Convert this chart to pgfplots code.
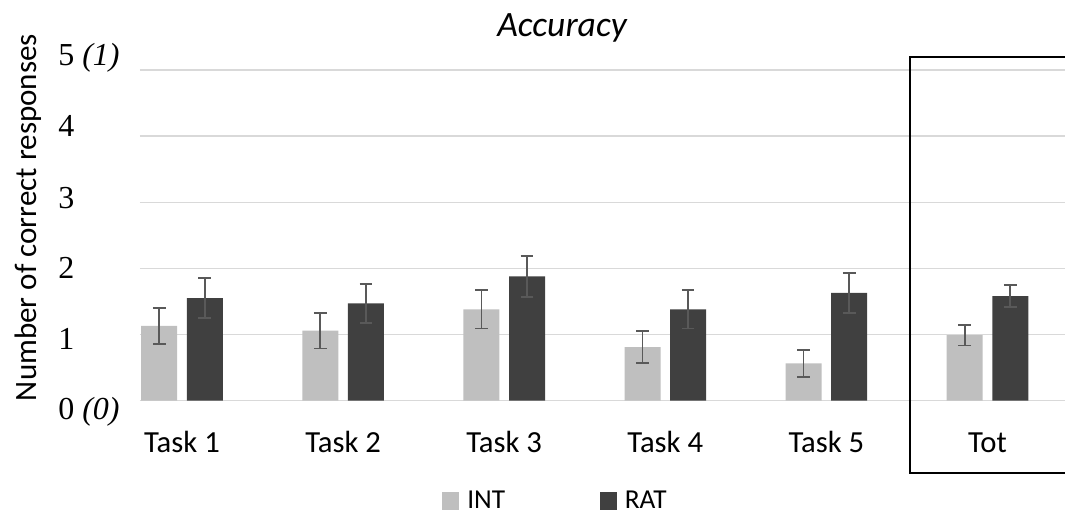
\documentclass[border=0pt]{standalone}
\usepackage{fontspec}
\setmainfont{Carlito}
\newfontfamily\tnr{Liberation Serif}
\usepackage{pgfplots}
\usepackage{pgfplotstable}
\pgfplotsset{compat=1.18}
\definecolor{intc}{HTML}{BFBFBF}
\definecolor{ratc}{HTML}{404040}
\definecolor{gridc}{HTML}{D9D9D9}
\definecolor{errc}{HTML}{595959}
\newcommand{\yl}[2]{\raisebox{#1}{\smash{\tnr\fontsize{24}{24}\selectfont #2}}}

\pgfplotstableread{
x y e
0 1.13 0.27
1 1.06 0.27
2 1.38 0.29
3 0.81 0.245
4 0.565 0.205
5 0.99 0.155
}\inttab
\pgfplotstableread{
x y e
0 1.55 0.30
1 1.47 0.29
2 1.88 0.31
3 1.38 0.29
4 1.63 0.30
5 1.58 0.165
}\rattab

\begin{document}
\begin{tikzpicture}
\useasboundingbox (0,0) rectangle (798.75pt,386.25pt);
\begin{axis}[
 at={(105pt,85.725pt)}, anchor=south west,
 width=693.75pt, height=248pt, scale only axis,
 xmin=-0.2607, xmax=5.481, ymin=0, ymax=5,
 ytick={0,...,5},
 yticklabels={\yl{-14.1pt}{0 \textit{(0)}}, \yl{-11.5pt}{1}, \yl{-7.7pt}{2}, \yl{-4.3pt}{3}, \yl{-0.5pt}{4}, \yl{3.75pt}{5 \textit{(1)}}},
 yticklabel style={anchor=base west, inner sep=0pt, xshift=-61.5pt},
 xtick={0,...,5},
 xticklabels={Task 1,Task 2,Task 3,Task 4,Task 5,Tot},
 xticklabel style={anchor=base, inner sep=0pt, yshift=-38.5pt, font=\fontsize{23}{23}\selectfont},
 major tick length=0pt,
 axis line style={draw=none},
 ymajorgrids, grid style={gridc, line width=1.1pt},
 title={Accuracy},
 title style={at={(axis description cs:0.4562,1.0786)}, anchor=base, font=\fontsize{26.7}{26.7}\selectfont\itshape},
 ylabel={Number of correct responses},
 ylabel style={at={(axis description cs:-0.1124,0.554)}, anchor=base, font=\fontsize{23.3}{23.3}\selectfont},
 legend image code/.code={\fill[#1] (0pt,-6.4pt) rectangle (12.75pt,6.4pt);},
 legend columns=2,
 legend style={draw=none, fill=none, inner sep=0pt, nodes={inner sep=0pt}, at={(axis description cs:0.3265,-0.3033)}, anchor=west, font=\fontsize{20.5}{20.5}\selectfont,
   /tikz/every odd column/.append style={column sep=6pt},
   /tikz/every even column/.append style={column sep=71pt}},
 legend cell align=left,
]
\addplot[ybar, bar width=27pt, bar shift=0pt, fill=intc, draw=none,
  error bars/.cd, y dir=both, y explicit,
  error bar style={errc, line width=1.3pt},
  error mark options={errc, line width=1.3pt, mark size=4.75pt, rotate=90}]
  table[x expr=\thisrow{x}-0.1415, y=y, y error=e] {\inttab};
\addlegendentry{INT}
\addplot[ybar, bar width=27pt, bar shift=0pt, fill=ratc, draw=none,
  error bars/.cd, y dir=both, y explicit,
  error bar style={errc, line width=1.3pt},
  error mark options={errc, line width=1.3pt, mark size=4.75pt, rotate=90}]
  table[x expr=\thisrow{x}+0.1415, y=y, y error=e] {\rattab};
\addlegendentry{RAT}
\end{axis}
\draw[line width=1.5pt] (682.3pt,31.3pt) rectangle (805pt,343.7pt);
\end{tikzpicture}
\end{document}
